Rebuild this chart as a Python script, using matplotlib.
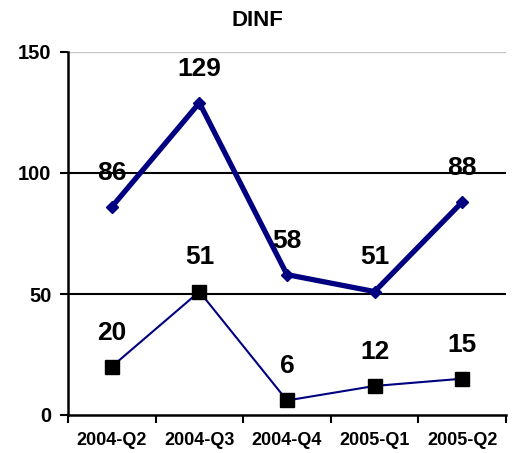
import matplotlib.pyplot as plt
from matplotlib.ticker import FixedLocator

plt.rcParams['font.family'] = ['Liberation Sans', 'DejaVu Sans']

quarters = ['2004-Q2', '2004-Q3', '2004-Q4', '2005-Q1', '2005-Q2']
upper = [86, 129, 58, 51, 88]
lower = [20, 51, 6, 12, 15]

fig = plt.figure(figsize=(5.16, 4.53), dpi=100)
ax = fig.add_axes([68 / 516, 38 / 453, 438 / 516, 363 / 453])

x = list(range(len(quarters)))

# grid lines
for v in [50, 100]:
    ax.axhline(v, color='black', lw=1.5, zorder=1)
ax.axhline(150, color='#c8c8c8', lw=1, zorder=1)

ax.plot(x, upper, color='#000080', lw=3.8, marker='D', ms=6, zorder=3)
ax.plot(x, lower, color='#000080', lw=1.5, marker='s', ms=10,
        mfc='black', mec='black', zorder=3)

for xi, v in zip(x, upper):
    ax.annotate(str(v), (xi, v), xytext=(0, 19.5), textcoords='offset points',
                ha='center', va='baseline', fontsize=19, fontweight='bold')
for xi, v in zip(x, lower):
    ax.annotate(str(v), (xi, v), xytext=(0, 19.5), textcoords='offset points',
                ha='center', va='baseline', fontsize=19, fontweight='bold')

ax.set_xlim(-0.5, 4.5)
ax.set_ylim(0, 150)
ax.set_yticks([0, 50, 100, 150])
ax.set_yticklabels(['0', '50', '100', '150'], fontsize=14.5, fontweight='bold')

ax.xaxis.set_major_locator(FixedLocator([i - 0.5 for i in range(6)]))
ax.xaxis.set_minor_locator(FixedLocator(x))
ax.set_xticklabels([], minor=False)
ax.set_xticklabels(quarters, minor=True, fontsize=13, fontweight='bold')
ax.tick_params(axis='x', which='major', length=6, width=1.5, direction='out')
ax.tick_params(axis='x', which='minor', length=0, pad=12)
ax.tick_params(axis='y', length=5.5, width=1.5, direction='out', pad=6.5)

for s in ['top', 'right']:
    ax.spines[s].set_visible(False)
for s in ['left', 'bottom']:
    ax.spines[s].set_linewidth(1.8)

fig.text(257 / 516, 1 - 20 / 453, 'DINF', ha='center', va='center',
         fontsize=16, fontweight='bold')

fig.savefig('out.png', dpi=100)
